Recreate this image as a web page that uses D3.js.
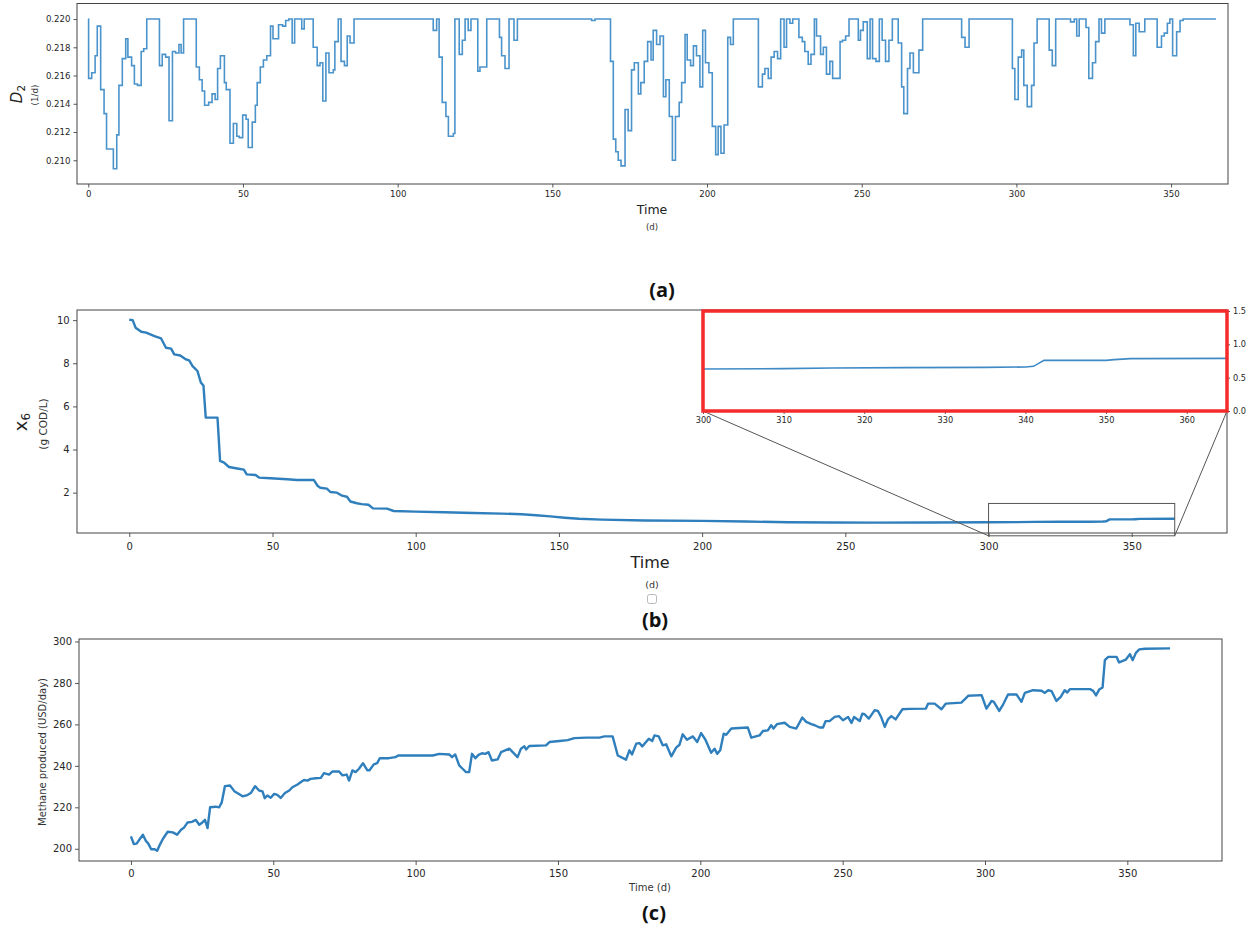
<!DOCTYPE html>
<html><head><meta charset="utf-8">
<script src="https://cdn.jsdelivr.net/npm/d3@7"></script>
<style>
body{margin:0;background:#fff}
text{font-family:"DejaVu Sans",sans-serif}
</style>
</head><body>
<svg id="c" width="1252" height="928"></svg>
<script>
// ---------- DATA ----------
const xTicks = [0,50,100,150,200,250,300,350];
const d2Ticks = [0.210,0.212,0.214,0.216,0.218,0.220];
const x6Ticks = [2,4,6,8,10];
const ch4Ticks = [200,220,240,260,280,300];
const insetXTicks = [300,310,320,330,340,350,360];
const insetYTicks = [0.0,0.5,1.0,1.5];

// Panel (a): D2 step series [day, value]
const d2Steps = [[0,0.2200],[0.1,0.2158],[1.1,0.2162],[2.2,0.2174],[2.9,0.2195],[4.0,0.2150],[5.1,0.2133],[5.9,0.2108],[8.1,0.2094],[9.2,0.2118],[9.9,0.2153],[11.0,0.2172],[12.1,0.2186],[12.8,0.2173],[14.0,0.2167],[14.9,0.2154],[15.9,0.2153],[17.1,0.2177],[17.9,0.2179],[18.9,0.2200],[23.0,0.2167],[23.9,0.2175],[25.0,0.2173],[26.1,0.2128],[27.2,0.2177],[28.2,0.2176],[29.3,0.2182],[30.0,0.2176],[30.8,0.2200],[34.9,0.2166],[35.9,0.2157],[36.8,0.2149],[37.6,0.2139],[38.9,0.2141],[40.0,0.2147],[41.0,0.2143],[41.8,0.2165],[42.7,0.2174],[44.0,0.2155],[44.6,0.2150],[45.8,0.2112],[46.9,0.2126],[48.0,0.2117],[48.8,0.2116],[49.9,0.2132],[51.0,0.2129],[51.7,0.2109],[53.0,0.2127],[54.0,0.2139],[54.6,0.2155],[55.6,0.2166],[56.6,0.2171],[57.7,0.2174],[58.9,0.2195],[59.7,0.2186],[61.5,0.2196],[62.8,0.2195],[63.8,0.2199],[64.8,0.2200],[65.9,0.2183],[66.7,0.2200],[69.0,0.2193],[69.8,0.2200],[72.7,0.2180],[74.0,0.2167],[74.9,0.2169],[75.8,0.2142],[76.8,0.2176],[77.8,0.2162],[79.2,0.2164],[79.7,0.2184],[80.8,0.2200],[81.7,0.2170],[82.8,0.2167],[83.7,0.2188],[84.6,0.2183],[85.9,0.2200],
[111.5,0.2192],[112.6,0.2200],[113.4,0.2173],[114.4,0.2141],[115.6,0.2131],[116.4,0.2117],[118.0,0.2119],[118.5,0.2200],[119.9,0.2175],[120.9,0.2185],[121.8,0.2200],[122.8,0.2192],[123.7,0.2200],[125.9,0.2163],[126.6,0.2166],[128.8,0.2200],[132.9,0.2187],[133.6,0.2174],[134.7,0.2165],[136.0,0.2200],[137.6,0.2185],[138.7,0.2200],[162.7,0.2199],[163.8,0.2200],[168.8,0.2170],[169.7,0.2115],[170.5,0.2106],[171.3,0.2100],[172.2,0.2096],[173.5,0.2136],[174.5,0.2121],[175.6,0.2164],[176.5,0.2169],[177.8,0.2147],[178.6,0.2155],[179.7,0.2170],[180.8,0.2184],
[181.9,0.2171],[182.6,0.2192],[183.7,0.2182],[184.8,0.2188],[185.9,0.2145],[186.7,0.2157],[187.8,0.2131],[188.8,0.2100],[189.8,0.2131],[191.0,0.2141],[191.8,0.2155],[192.9,0.2189],[193.6,0.2171],[194.7,0.2167],[195.6,0.2181],[196.6,0.2174],[197.7,0.2152],[198.6,0.2192],[199.5,0.2169],[200.6,0.2162],[201.7,0.2124],[202.8,0.2104],[203.6,0.2124],[204.5,0.2105],[205.5,0.2125],[206.7,0.2187],[207.6,0.2182],[208.5,0.2200],[216.6,0.2152],[217.9,0.2161],[218.7,0.2165],[219.8,0.2158],[220.7,0.2173],[221.7,0.2177],[222.8,0.2172],[223.8,0.2200],[224.9,0.2180],[225.7,0.2200],[226.8,0.2197],[227.7,0.2200],[229.7,0.2187],[230.8,0.2184],[231.6,0.2177],[232.7,0.2168],[233.6,0.2175],[234.7,0.2200],[235.4,0.2188],[236.7,0.2175],[237.6,0.2180],[238.6,0.2161],[239.7,0.2170],[240.6,0.2158],[243.0,0.2184],[243.8,0.2185],[244.8,0.2188],[245.9,0.2200],[248.9,0.2185],[249.6,0.2192],[250.5,0.2198],[251.8,0.2172],[252.7,0.2200],[253.5,0.2172],[254.6,0.2170],[255.7,0.2200],[256.6,0.2185],[257.7,0.2170],[258.8,0.2185],[259.9,0.2200],[261.8,0.2183],[262.9,0.2152],[263.6,0.2133],[264.8,0.2165],[265.6,0.2176],[266.7,0.2162],[268.5,0.2178],[269.7,0.2200],
[282.3,0.2187],[283.4,0.2180],[284.7,0.2200],[298.7,0.2165],[299.5,0.2143],[300.6,0.2173],[301.7,0.2178],[302.4,0.2153],[303.5,0.2138],[304.9,0.2153],[305.7,0.2183],[306.7,0.2200],[310.6,0.2178],[311.6,0.2167],[312.7,0.2200],[317.5,0.2198],[318.7,0.2200],[319.5,0.2188],[320.3,0.2200],[322.5,0.2194],[323.4,0.2158],[324.6,0.2169],[325.6,0.2184],[326.7,0.2200],[327.5,0.2190],[328.6,0.2200],[336.7,0.2196],[337.8,0.2174],[338.6,0.2197],[339.7,0.2191],[341.5,0.2200],[345.5,0.2180],[346.9,0.2188],[347.8,0.2190],[348.8,0.2197],[349.6,0.2200],[350.5,0.2174],[351.8,0.2191],[352.9,0.2199],[353.9,0.2200],[364.5,0.2200]];

// Panel (b): X6 [day, g COD/L]
const x6Series = [[0,10.02],[1.2,10.0],[2.2,9.65],[4.2,9.46],[5.9,9.42],[8.8,9.26],[11.1,9.15],[11.9,8.95],[12.8,8.72],[14.6,8.68],[15.7,8.41],[17.8,8.36],[19.8,8.18],[20.9,8.13],[22.1,7.87],[23.8,7.64],[25,7.10],[25.9,6.97],[26.7,5.48],[30.8,5.48],[31.7,3.47],[33.1,3.39],[34.8,3.19],[37.7,3.12],[40,3.07],[41,2.85],[44.1,2.82],[45.3,2.70],[49.3,2.67],[55.1,2.62],[58.6,2.59],[64.4,2.59],[65.8,2.31],[66.7,2.23],[69,2.19],[70.2,2.03],[72.5,2.0],[74.3,1.86],[76,1.81],[77.2,1.59],[79.5,1.51],[81.2,1.47],[83.5,1.44],[85.1,1.27],[90,1.26],[92.3,1.15],[100,1.12],[110,1.09],[120,1.06],[130,1.03],[137,1.00],[142,0.95],[147,0.90],[152,0.84],[157,0.79],[165,0.75],[180,0.71],[200,0.69],[215,0.66],[230,0.63],[245,0.62],[260,0.61],[280,0.62],[300,0.63],[310,0.635],[316,0.645],[325,0.65],[335,0.655],[340,0.66],[341,0.67],[342.3,0.76],[350,0.76],[351,0.77],[353,0.785],[365,0.79]];

// Panel (c): methane produced [day, USD/day]
const ch4Series = [[0,206],[1,202.3],[2,202.5],[3.1,204.7],[4.2,206.8],[5.2,203.9],[6.1,202.5],[7.1,199.8],[8.3,199.8],[9.2,199],[10,201.5],[11.2,204.7],[12.9,208.2],[14.7,207.9],[16.2,206.8],[17.6,209.2],[18.7,210.3],[19.9,212.7],[21.4,213],[22.8,213.9],[24,211.6],[25.1,212.7],[26,214],[26.9,210],[27.8,220],[29.8,220.3],[31,220],[31.9,222.4],[33,230.2],[34.8,230.5],[36.3,227.8],[37.8,226.5],[39.2,225.3],[40.9,225.9],[42.1,226.9],[43.6,230.2],[45,228.1],[46.2,227.7],[47,224.4],[47.9,225.7],[49.1,224.6],[50.3,226.5],[51.4,226],[52.6,224.5],[54.1,226.9],[55.6,228.1],[56.7,229.7],[58.5,231],[59.6,232.1],[60.8,233.2],[62,232.9],[63.1,233.7],[64.9,234],[66.7,234.2],[67.8,236.5],[69.6,235.8],[70.8,237.3],[73.1,237.3],[74.3,235.4],[75.8,235.8],[76.6,232.9],[77.8,237.8],[78.9,237],[80.1,238.6],[81.5,241.3],[83,237.9],[83.8,237.9],[85.3,240.7],[86.5,241.3],[87.4,243.7],[90.6,243.7],[92.9,244.2],[93.9,245],[106,245],[108.3,245.8],[111.8,245.5],[112.8,244.2],[113.9,245.5],[115.3,240.2],[116.5,238.6],[117.7,237],[118.8,237],[119.8,245.8],[121,243.7],[122.1,245.3],[123.3,246.1],[124.5,245.8],[125.6,246.6],[126.8,242.6],[128.8,243.1],[130,246.6],[132.9,248.3],[135.8,244.2],[137,248.3],[138.2,249.4],[138.8,247.9],[139.9,249.6],[145.8,249.9],[147,251.5],[150.5,252],[153.4,252.4],[155.8,253.4],[159.9,253.6],[164.6,253.6],[166.3,254.2],[169.2,254.2],[171,245],[173.9,243],[175.1,247.5],[176,245.5],[177.5,250.7],[178.6,251],[179.6,249.4],[181.9,253.1],[183.1,252],[183.9,254.7],[185.4,254.2],[186.8,249.9],[188,250.4],[189.8,244.6],[191.5,248.8],[192.7,250.2],[193.8,255.2],[195.3,252.6],[197.4,254.2],[198.9,251.5],[200.3,255.8],[201.8,252.6],[203.8,246.3],[205,248.3],[205.9,245.8],[207,247.5],[208.2,255.5],[209.1,255],[210.9,258],[216.7,258.5],[217.9,253.6],[220.8,254.7],[222,256.8],[223.7,257.1],[224.9,259.6],[225.7,258],[226.9,260.1],[229.6,260.8],[231.4,258.8],[233.7,258],[235.8,263.3],[237.2,261.2],[239,260.1],[240.2,259.6],[241.9,258.5],[243.1,258.5],[244,261.6],[245.4,261.6],[247.2,263.6],[248.7,264],[250.1,262],[251.9,263.6],[253.1,260.7],[254,263.6],[256,261.6],[256.9,265.2],[257.7,264.9],[259.2,262.8],[261.2,266.8],[262.4,266.5],[263.6,263.3],[264.8,258.8],[265.9,262.4],[267.1,264],[268.6,262.4],[271,267.3],[273.5,267.5],[279.2,267.6],[280,270],[282.3,270],[284.7,267.3],[286.2,270],[291.7,270.5],[294.1,273.8],[298.8,274.1],[300.5,267.6],[302.3,271.3],[303.1,270.9],[305,266.5],[306.4,269.7],[308.1,274.4],[311.1,274.4],[312.8,270.9],[314,275.2],[316.9,276.5],[319.9,276.2],[321,275.2],[322.2,276.5],[323.4,276],[325.1,271.3],[326.6,273.3],[328,276.5],[328.9,275.4],[329.8,277],[336.9,277],[338,276.2],[339,274],[340.1,276.8],[341.3,277.8],[342.1,291],[343.3,292.6],[346.2,292.6],[347.1,289.9],[349.5,291.3],[350.9,293.9],[351.9,291],[353,294.5],[354.2,296.2],[356.2,296.5],[365,296.7]];

// ---------- DRAWING ----------
const svg = d3.select("#c");
const spineColor = "#444", tickText = "#262626";

function styleAxis(sel, fs){
  sel.select(".domain").remove();
  sel.selectAll(".tick line").attr("stroke", spineColor).attr("stroke-width", 0.9);
  sel.selectAll(".tick text").attr("fill", tickText).style("font-size", fs + "px")
     .style("font-family", '"DejaVu Sans",sans-serif');
}

function makePanel(box, xDom, yDom, o){
  const x = d3.scaleLinear().domain(xDom).range([box.l, box.r]);
  const y = d3.scaleLinear().domain(yDom).range([box.b, box.t]);
  const g = svg.append("g");
  const gx = g.append("g").attr("transform", `translate(0,${box.b})`)
    .call(d3.axisBottom(x).tickValues(o.xTicks).tickSize(o.tick).tickPadding(o.xPad).tickFormat(d3.format("d")));
  styleAxis(gx, o.fs);
  const gy = g.append("g").attr("transform", `translate(${box.l},0)`)
    .call(d3.axisLeft(y).tickValues(o.yTicks).tickSize(o.tick).tickPadding(o.yPad).tickFormat(o.yFmt));
  styleAxis(gy, o.fs);
  return {x, y, g};
}

function frame(g, box, color, w){
  g.append("rect").attr("x", box.l).attr("y", box.t)
    .attr("width", box.r - box.l).attr("height", box.b - box.t)
    .attr("fill", "none").attr("stroke", color).attr("stroke-width", w);
}

// ---- Panel (a)
const boxA = {l:77, r:1228, t:3.5, b:184};
const pA = makePanel(boxA, [-3.65, 368.4], [0.20832, 0.22110],
  {xTicks, yTicks:d2Ticks, tick:3.5, xPad:3.5, yPad:3, fs:8.6, yFmt:d3.format(".3f")});
pA.g.append("path").datum(d2Steps)
  .attr("d", d3.line().x(d => pA.x(d[0])).y(d => pA.y(d[1])).curve(d3.curveStepAfter))
  .attr("fill", "none").attr("stroke", "#4b93cb").attr("stroke-width", 1.6);
frame(pA.g, boxA, spineColor, 1);

svg.append("text").attr("transform", "translate(22,94) rotate(-90)").attr("text-anchor", "middle")
  .style("font-size", "15px").attr("fill", "#222")
  .html('<tspan font-style="italic">D</tspan><tspan dy="3" font-size="10.5">2</tspan>');
svg.append("text").attr("transform", "translate(37.5,95) rotate(-90)").attr("text-anchor", "middle")
  .style("font-size", "8.8px").attr("fill", "#333").text("(1/d)");
svg.append("text").attr("x", 652).attr("y", 214).attr("text-anchor", "middle")
  .style("font-size", "12.5px").attr("fill", "#222").text("Time");
svg.append("text").attr("x", 652).attr("y", 229.5).attr("text-anchor", "middle")
  .style("font-size", "8.6px").attr("fill", "#333").text("(d)");
svg.append("text").attr("x", 662).attr("y", 297).attr("text-anchor", "middle")
  .style("font-family", '"Open Sans",sans-serif').style("font-weight", 700).style("font-size", "20px")
  .attr("fill", "#111").text("(a)");

// ---- Panel (b)
const boxB = {l:77, r:1227, t:310, b:533};
const pB = makePanel(boxB, [-18.25, 383.25], [0.13, 10.47],
  {xTicks, yTicks:x6Ticks, tick:4, xPad:5.5, yPad:3.3, fs:10, yFmt:d3.format("d")});
pB.g.append("path").datum(x6Series)
  .attr("d", d3.line().x(d => pB.x(d[0])).y(d => pB.y(d[1])))
  .attr("fill", "none").attr("stroke", "#2f7fbd").attr("stroke-width", 2.4).attr("stroke-linejoin", "round");
frame(pB.g, boxB, spineColor, 1);

// zoom rectangle + connectors (mark_inset)
const boxI = {l:703, r:1227, t:311, b:411};
const rx0 = pB.x(300), rx1 = pB.x(365), ry0 = pB.y(0), ry1 = pB.y(1.5);
const markColor = "#555";
pB.g.append("rect").attr("x", rx0).attr("y", ry1).attr("width", rx1 - rx0).attr("height", ry0 - ry1)
  .attr("fill", "none").attr("stroke", markColor).attr("stroke-width", 1);
pB.g.append("line").attr("x1", boxI.l).attr("y1", boxI.b).attr("x2", rx0).attr("y2", ry0)
  .attr("stroke", markColor).attr("stroke-width", 1);
pB.g.append("line").attr("x1", boxI.r).attr("y1", boxI.b).attr("x2", rx1).attr("y2", ry0)
  .attr("stroke", markColor).attr("stroke-width", 1);

// inset axes
const xi = d3.scaleLinear().domain([300, 365]).range([boxI.l, boxI.r]);
const yi = d3.scaleLinear().domain([0, 1.5]).range([boxI.b, boxI.t]);
const gI = svg.append("g");
gI.append("rect").attr("x", boxI.l).attr("y", boxI.t).attr("width", boxI.r - boxI.l).attr("height", boxI.b - boxI.t).attr("fill", "#fff");
const gix = gI.append("g").attr("transform", `translate(0,${boxI.b})`)
  .call(d3.axisBottom(xi).tickValues(insetXTicks).tickSize(3).tickPadding(3.5).tickFormat(d3.format("d")));
styleAxis(gix, 8.2);
const giy = gI.append("g").attr("transform", `translate(${boxI.r},0)`)
  .call(d3.axisRight(yi).tickValues(insetYTicks).tickSize(3).tickPadding(3).tickFormat(d3.format(".1f")));
styleAxis(giy, 8.2);
gI.append("clipPath").attr("id", "clipI").append("rect")
  .attr("x", boxI.l).attr("y", boxI.t).attr("width", boxI.r - boxI.l).attr("height", boxI.b - boxI.t);
gI.append("path").datum(x6Series.filter(d => d[0] >= 300))
  .attr("clip-path", "url(#clipI)")
  .attr("d", d3.line().x(d => xi(d[0])).y(d => yi(d[1])))
  .attr("fill", "none").attr("stroke", "#3f8ac5").attr("stroke-width", 1.6);
frame(gI, boxI, "#f52b2b", 3.5);

svg.append("text").attr("transform", "translate(26.5,422) rotate(-90)").attr("text-anchor", "middle")
  .style("font-size", "18px").attr("fill", "#222")
  .html('x<tspan dy="3" font-size="12">6</tspan>');
svg.append("text").attr("transform", "translate(46.5,424) rotate(-90)").attr("text-anchor", "middle")
  .style("font-size", "10.5px").attr("fill", "#333").text("(g COD/L)");
svg.append("text").attr("x", 650).attr("y", 568).attr("text-anchor", "middle")
  .style("font-size", "16px").attr("fill", "#222").text("Time");
svg.append("text").attr("x", 652).attr("y", 588).attr("text-anchor", "middle")
  .style("font-size", "9.5px").attr("fill", "#333").text("(d)");
svg.append("rect").attr("x", 647.5).attr("y", 594.5).attr("width", 9).attr("height", 9).attr("rx", 2)
  .attr("fill", "#fff").attr("stroke", "#b8b8b8").attr("stroke-width", 1);
svg.append("text").attr("x", 655).attr("y", 627).attr("text-anchor", "middle")
  .style("font-family", '"Open Sans",sans-serif').style("font-weight", 700).style("font-size", "20px")
  .attr("fill", "#111").text("(b)");

// ---- Panel (c)
const boxC = {l:79, r:1222, t:639, b:861};
const pC = makePanel(boxC, [-18.25, 383.25], [194.1, 301.2],
  {xTicks, yTicks:ch4Ticks, tick:4, xPad:4.5, yPad:3, fs:10, yFmt:d3.format("d")});
pC.g.append("path").datum(ch4Series)
  .attr("d", d3.line().x(d => pC.x(d[0])).y(d => pC.y(d[1])))
  .attr("fill", "none").attr("stroke", "#2f7fbd").attr("stroke-width", 2.4).attr("stroke-linejoin", "round");
frame(pC.g, boxC, spineColor, 1);

svg.append("text").attr("transform", "translate(46,752) rotate(-90)").attr("text-anchor", "middle")
  .style("font-size", "10px").attr("fill", "#333").text("Methane produced (USD/day)");
svg.append("text").attr("x", 650).attr("y", 891).attr("text-anchor", "middle")
  .style("font-size", "10px").attr("fill", "#333").text("Time (d)");
svg.append("text").attr("x", 654).attr("y", 920).attr("text-anchor", "middle")
  .style("font-family", '"Open Sans",sans-serif').style("font-weight", 700).style("font-size", "20px")
  .attr("fill", "#111").text("(c)");
</script>
</body></html>
